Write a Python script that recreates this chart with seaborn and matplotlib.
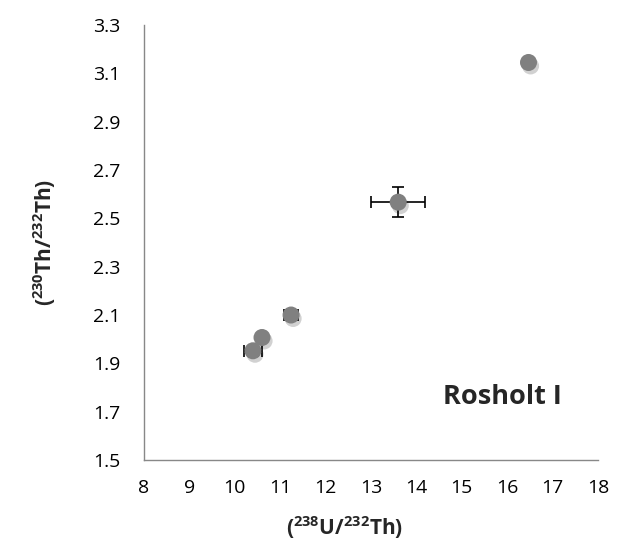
import seaborn as sns
import matplotlib.pyplot as plt
import matplotlib.patheffects as pe
import pandas as pd

# data
u_th = [16.47, 13.60, 11.24, 10.60, 10.40]
th_th = [3.145, 2.567, 2.100, 2.007, 1.952]
u_th_err = [0.0, 0.60, 0.15, 0.0, 0.20]
th_th_err = [0.0, 0.062, 0.0, 0.0, 0.02]
x_ticks = list(range(8, 19))
y_ticks = [1.5, 1.7, 1.9, 2.1, 2.3, 2.5, 2.7, 2.9, 3.1, 3.3]

df = pd.DataFrame({"u": u_th, "th": th_th, "xerr": u_th_err, "yerr": th_th_err})

sns.set_style("white")
plt.rcParams["font.family"] = ["Open Sans", "DejaVu Sans"]
plt.rcParams["mathtext.fontset"] = "custom"
plt.rcParams["mathtext.rm"] = "Open Sans:bold"
plt.rcParams["mathtext.bf"] = "Open Sans:bold"
plt.rcParams["mathtext.default"] = "bf"

fig = plt.figure(figsize=(6.19, 5.5), dpi=100)
ax = fig.add_axes([0.2326, 0.1636, 0.7334, 0.7909])

# error bars behind markers
ax.errorbar(df["u"], df["th"], xerr=df["xerr"], yerr=df["yerr"], fmt="none",
            ecolor="black", elinewidth=1.2, capsize=4, capthick=1.2, zorder=2)

sns.scatterplot(data=df, x="u", y="th", ax=ax, s=150, color="#808080",
                edgecolor="none", zorder=3,
                path_effects=[pe.SimplePatchShadow(offset=(1.5, -2.5), shadow_rgbFace="k", alpha=0.18),
                              pe.Normal()])

ax.set_xlim(8, 18)
ax.set_ylim(1.5, 3.3)
ax.set_xticks(x_ticks)
ax.set_yticks(y_ticks)
ax.set_yticklabels([f"{v:.1f}" for v in y_ticks])

for side in ["top", "right"]:
    ax.spines[side].set_visible(False)
for side in ["left", "bottom"]:
    ax.spines[side].set_color("#888888")
    ax.spines[side].set_linewidth(1)
ax.tick_params(axis="both", direction="out", length=5, width=1, color="#888888",
               labelsize=14, labelcolor="black")
ax.tick_params(axis="y", pad=12)
ax.tick_params(axis="x", pad=9)

ax.set_xlabel(r"$(^{238}U/^{232}Th)$", fontsize=15, va="center")
ax.set_ylabel(r"$(^{230}Th/^{232}Th)$", fontsize=15, va="center")
ax.xaxis.set_label_coords(0.443, -0.156)
ax.yaxis.set_label_coords(-0.22, 0.5)

ax.text(15.9, 1.76, "Rosholt I", fontsize=19.5, fontweight="bold", ha="center", va="center")

fig.savefig("out.png", dpi=100)
